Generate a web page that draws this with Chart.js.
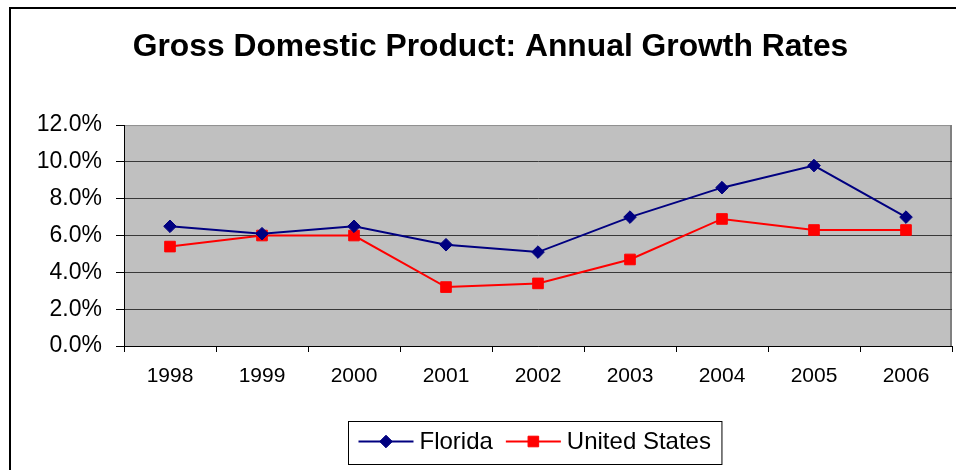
<!DOCTYPE html>
<html><head><meta charset="utf-8">
<script src="https://cdn.jsdelivr.net/npm/chart.js@4/dist/chart.umd.min.js"></script>
<style>html,body{margin:0;padding:0;background:#fff;overflow:hidden}canvas{display:block}</style>
</head><body>
<canvas id="c" width="956" height="470"></canvas>
<script>
const TITLE = 'Gross Domestic Product: Annual Growth Rates';
const years = ['1998', '1999', '2000', '2001', '2002', '2003', '2004', '2005', '2006'];
const florida = [6.5, 6.1, 6.5, 5.5, 5.1, 7.0, 8.6, 9.8, 7.0];
const unitedStates = [5.4, 6.0, 6.0, 3.2, 3.4, 4.7, 6.9, 6.3, 6.3];
const yTicks = [0, 2, 4, 6, 8, 10, 12];
const seriesNames = ['Florida', 'United States'];

const FONT = "'Liberation Sans', Arial, sans-serif";
const NAVY = '#000080';
const RED = '#ff0000';

const framePlugin = {
  id: 'frame',
  beforeDraw(chart) {
    const {ctx, chartArea: a} = chart;
    ctx.save();
    ctx.fillStyle = '#fff';
    ctx.fillRect(0, 0, chart.width, chart.height);
    ctx.strokeStyle = '#000';
    ctx.lineWidth = 2;
    ctx.strokeRect(10, 8, 1200, 1200);
    ctx.fillStyle = '#c0c0c0';
    ctx.fillRect(a.left, a.top, a.right - a.left, a.bottom - a.top);
    ctx.strokeStyle = '#909090';
    ctx.lineWidth = 1;
    ctx.beginPath();
    ctx.moveTo(a.left, a.top + 0.5); ctx.lineTo(a.right, a.top + 0.5);
    ctx.stroke();
    ctx.strokeStyle = '#808080';
    ctx.lineWidth = 2;
    ctx.beginPath();
    ctx.moveTo(a.right - 1, a.top); ctx.lineTo(a.right - 1, a.bottom);
    ctx.stroke();
    ctx.restore();
  }
};

function drawMarker(ctx, style, x, y, r, color) {
  ctx.beginPath();
  if (style === 'rectRot') {
    ctx.moveTo(x - r, y); ctx.lineTo(x, y - r); ctx.lineTo(x + r, y); ctx.lineTo(x, y + r);
  } else {
    const s = r * Math.SQRT1_2;
    ctx.rect(x - s, y - s, 2 * s, 2 * s);
  }
  ctx.closePath();
  ctx.fillStyle = color; ctx.strokeStyle = color; ctx.lineWidth = 1;
  ctx.fill(); ctx.stroke();
}

const legendPlugin = {
  id: 'boxLegend',
  afterDraw(chart) {
    const {ctx, chartArea: a} = chart;
    const ds = chart.data.datasets;
    ctx.save();
    ctx.font = '24px ' + FONT;
    const lineLen = 55, gap = 6, itemGap = 13, padL = 10, padR = 11;
    const widths = ds.map(d => ctx.measureText(d.label).width);
    let total = padL + padR;
    ds.forEach((d, i) => { total += lineLen + gap + widths[i] + (i ? itemGap : 0); });
    const cx = (a.left + a.right) / 2 - 3.5;
    const left = Math.round(cx - total / 2) + 0.5;
    const top = a.bottom + 75.5;
    const h = 43;
    ctx.strokeStyle = '#000';
    ctx.lineWidth = 1;
    ctx.strokeRect(left, top, total, h);
    let x = left + padL;
    const cy = top + 20;
    ds.forEach((d, i) => {
      ctx.strokeStyle = d.borderColor;
      ctx.lineWidth = d.borderWidth;
      ctx.beginPath(); ctx.moveTo(x, cy); ctx.lineTo(x + lineLen, cy); ctx.stroke();
      drawMarker(ctx, d.pointStyle, x + lineLen / 2, cy, d.pointRadius, d.pointBackgroundColor);
      x += lineLen + gap;
      ctx.fillStyle = '#000';
      ctx.textBaseline = 'middle';
      ctx.textAlign = 'left';
      ctx.fillText(d.label, x, cy + 1);
      x += widths[i] + itemGap;
    });
    ctx.restore();
  }
};

new Chart(document.getElementById('c'), {
  type: 'line',
  data: {
    labels: years,
    datasets: [
      {label: seriesNames[0], data: florida, borderColor: NAVY, backgroundColor: NAVY,
       pointBackgroundColor: NAVY, pointBorderColor: NAVY, borderWidth: 2,
       pointStyle: 'rectRot', pointRadius: 6.3, pointBorderWidth: 1, tension: 0, fill: false},
      {label: seriesNames[1], data: unitedStates, borderColor: RED, backgroundColor: RED,
       pointBackgroundColor: RED, pointBorderColor: RED, borderWidth: 2,
       pointStyle: 'rect', pointRadius: 7.5, pointBorderWidth: 1, tension: 0, fill: false}
    ]
  },
  options: {
    responsive: false,
    animation: false,
    devicePixelRatio: 1,
    events: [],
    layout: {autoPadding: false, padding: {left: 29, right: 4, top: 0, bottom: 84}},
    plugins: {
      legend: {display: false},
      tooltip: {enabled: false},
      title: {display: true, text: TITLE, color: '#000',
        font: {family: FONT, size: 31.8, weight: 'bold', lineHeight: 1.2},
        padding: {top: 28.5, bottom: 58.4}}
    },
    scales: {
      x: {
        offset: true,
        grid: {display: true, offset: true, drawOnChartArea: false, drawTicks: true,
               tickLength: 6, tickColor: '#000', tickWidth: 1},
        border: {display: true, color: '#000', width: 1},
        ticks: {color: '#000', font: {family: FONT, size: 21}, padding: 12, maxRotation: 0, autoSkip: false},
        afterFit: s => { s.height = 40; s.paddingLeft = 0; s.paddingRight = 0; }
      },
      y: {
        min: 0, max: 12,
        afterBuildTicks: s => { s.ticks = yTicks.map(v => ({value: v})); },
        grid: {color: c => (c.tick && c.tick.value === 12 ? 'rgba(0,0,0,0)' : '#383838'),
               lineWidth: 1, tickLength: 8, tickColor: '#000', drawTicks: true},
        border: {display: true, color: '#000', width: 1},
        ticks: {color: '#000', font: {family: FONT, size: 23}, padding: 14,
                callback: v => Number(v).toFixed(1) + '%'},
        afterFit: s => { s.width = 95; s.paddingTop = 0; s.paddingBottom = 0; }
      }
    }
  },
  plugins: [framePlugin, legendPlugin]
});
</script>
</body></html>
